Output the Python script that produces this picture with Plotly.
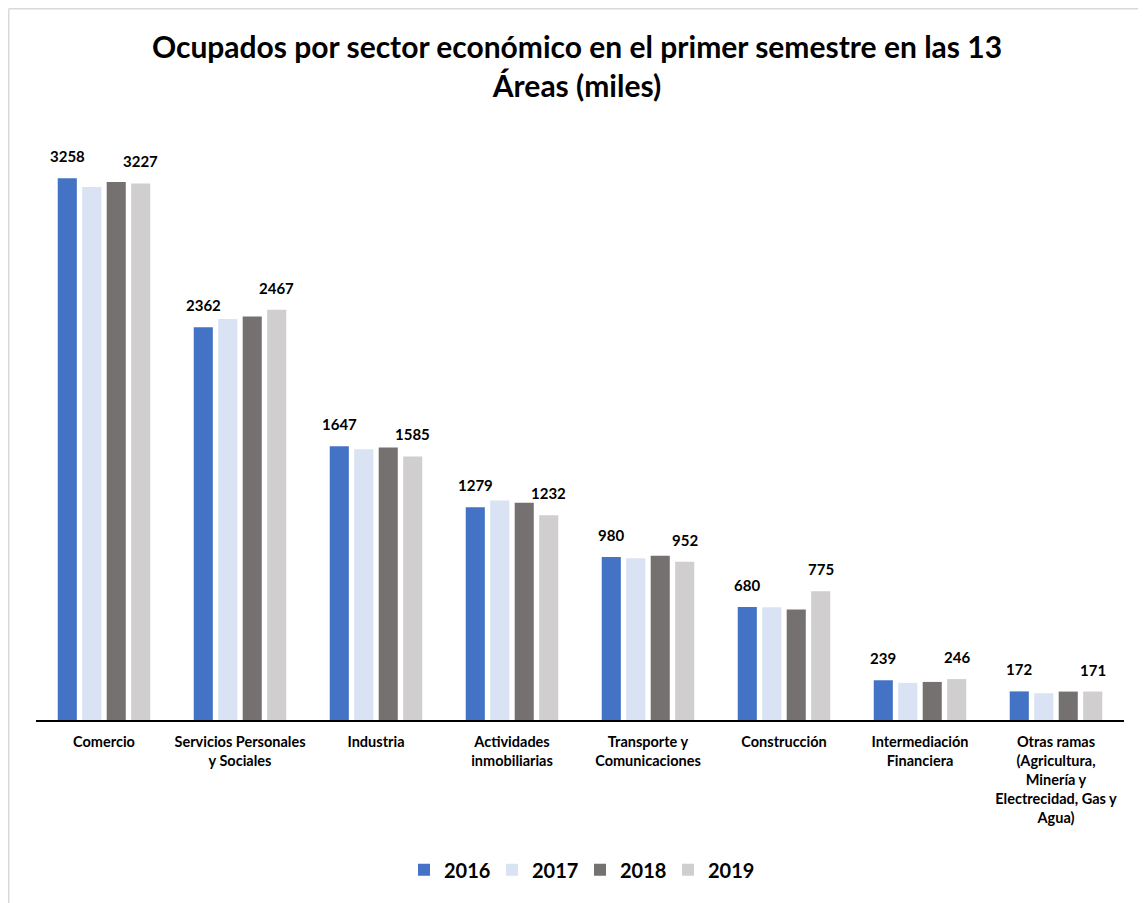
import plotly.graph_objects as go

categories = [
    "Comercio",
    "Servicios Personales<br>y Sociales",
    "Industria",
    "Actividades<br>inmobiliarias",
    "Transporte y<br>Comunicaciones",
    "Construcción",
    "Intermediación<br>Financiera",
    "Otras ramas<br>(Agricultura,<br>Minería y<br>Electrecidad, Gas y<br>Agua)",
]
years = ["2016", "2017", "2018", "2019"]
v2016 = [3258, 2362, 1647, 1279, 980, 680, 239, 172]
v2017 = [3205, 2412, 1628, 1320, 972, 678, 223, 161]
v2018 = [3235, 2426, 1638, 1306, 988, 665, 229, 171]
v2019 = [3227, 2467, 1585, 1232, 952, 775, 246, 171]
colors = ["#4472C4", "#DAE3F3", "#767171", "#D0CECE"]
show_labels = [True, False, False, True]

# the page body adds an 8px offset, so the figure is 8px smaller
W, H = 1138, 895
ml, mr, mt, mb = 28, 22, 130, 183
FONT = "Lato"
BARGAP = 0.28
series = [v2016, v2017, v2018, v2019]

fig = go.Figure()
for yr, vals, col in zip(years, series, colors):
    fig.add_trace(go.Bar(
        name=yr, x=categories, y=vals, marker=dict(color=col, line=dict(width=0)),
    ))

# data labels above 2016 and 2019 bars
n = len(series)
slot = (1 - BARGAP) / n
annotations = []
for i, (vals, lab) in enumerate(zip(series, show_labels)):
    if not lab:
        continue
    for ci, v in enumerate(vals):
        annotations.append(dict(
            x=ci + (i - (n - 1) / 2) * slot, y=v, xref="x", yref="y",
            text=str(v), showarrow=False, yanchor="bottom", yshift=11,
            font=dict(family=FONT, size=15, color="#000000", weight="bold"),
        ))

pw = W - ml - mr
ph = H - mt - mb
x0 = (0.75 - ml) / pw
y1 = (H - mb - 0.75) / ph

fig.update_layout(
    width=W, height=H,
    margin=dict(l=ml, r=mr, t=mt, b=mb, autoexpand=False),
    paper_bgcolor="white", plot_bgcolor="white",
    barmode="group", bargap=BARGAP, bargroupgap=0.22,
    title=dict(
        text="Ocupados por sector económico en el primer semestre en las 13<br>Áreas (miles)",
        x=0.5, xanchor="center", y=1 - 50 / H, yanchor="top",
        font=dict(family=FONT, size=30, color="#000000", weight="bold"),
    ),
    xaxis=dict(
        showline=True, linecolor="#000000", linewidth=1.5,
        tickfont=dict(family=FONT, size=14.5, color="#000000", weight="bold"),
        ticks="", showgrid=False, ticklabelstandoff=8, automargin=False,
    ),
    yaxis=dict(range=[0, 3500], visible=False, showgrid=False, zeroline=False),
    legend=dict(
        orientation="h", x=0.5, xanchor="center", y=-0.224, yanchor="top",
        font=dict(family=FONT, size=20, color="#000000", weight="bold"),
        entrywidth=43, entrywidthmode="pixels", traceorder="normal",
    ),
    annotations=annotations,
    shapes=[
        dict(type="line", xref="paper", yref="paper", x0=x0, x1=1.1, y0=y1, y1=y1,
             line=dict(color="#D9D9D9", width=1.5)),
        dict(type="line", xref="paper", yref="paper", x0=x0, x1=x0, y0=y1, y1=-0.5,
             line=dict(color="#D9D9D9", width=1.5)),
    ],
)
fig.write_html("out.html")
